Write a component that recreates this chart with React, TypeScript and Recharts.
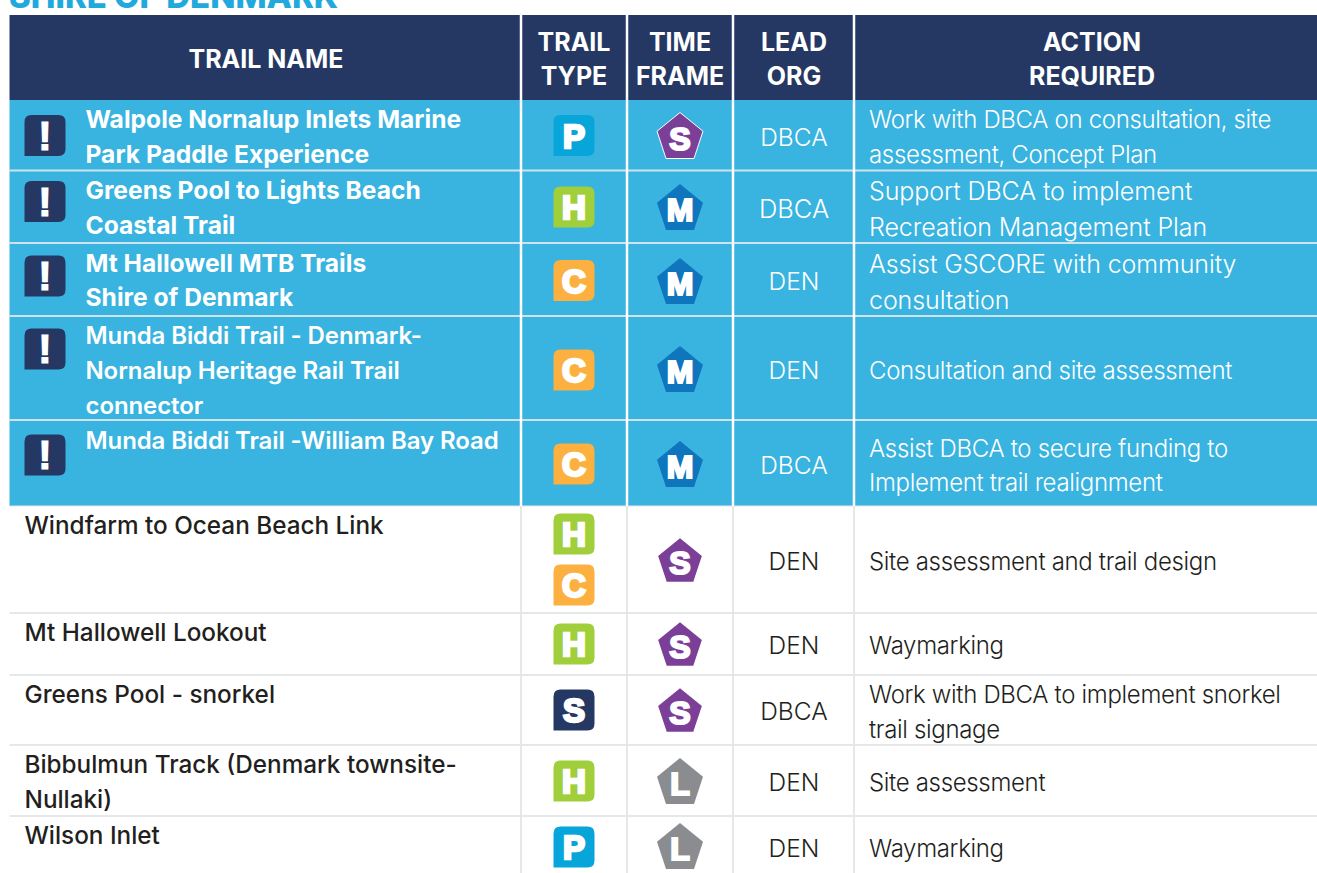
import React from 'react';
import { ComposedChart, XAxis, YAxis, Scatter, ReferenceArea, ReferenceLine } from 'recharts';

const WIDTH = 1317;
const HEIGHT = 873;
const FONT = 'Inter, sans-serif';
const BADGE_FONT = '"Liberation Sans", Arial, sans-serif';

// table content
const headers = [['TRAIL NAME'], ['TRAIL', 'TYPE'], ['TIME', 'FRAME'], ['LEAD', 'ORG'], ['ACTION', 'REQUIRED']];
const trailNames = [
  ['Walpole Nornalup Inlets Marine', 'Park Paddle Experience'],
  ['Greens Pool to Lights Beach', 'Coastal Trail'],
  ['Mt Hallowell MTB Trails', 'Shire of Denmark'],
  ['Munda Biddi Trail - Denmark-', 'Nornalup Heritage Rail Trail', 'connector'],
  ['Munda Biddi Trail -William Bay Road'],
  ['Windfarm to Ocean Beach Link'],
  ['Mt Hallowell Lookout'],
  ['Greens Pool - snorkel'],
  ['Bibbulmun Track (Denmark townsite-', 'Nullaki)'],
  ['Wilson Inlet'],
];
const trailTypes = [['P'], ['H'], ['C'], ['C'], ['C'], ['H', 'C'], ['H'], ['S'], ['H'], ['P']];
const timeFrames = ['S', 'M', 'M', 'M', 'M', 'S', 'S', 'S', 'L', 'L'];
const leadOrgs = ['DBCA', 'DBCA', 'DEN', 'DEN', 'DBCA', 'DEN', 'DEN', 'DBCA', 'DEN', 'DEN'];
const actions = [
  ['Work with DBCA on consultation, site', 'assessment, Concept Plan'],
  ['Support DBCA to implement', 'Recreation Management Plan'],
  ['Assist GSCORE with community', 'consultation'],
  ['Consultation and site assessment'],
  ['Assist DBCA to secure funding to', 'Implement trail realignment'],
  ['Site assessment and trail design'],
  ['Waymarking'],
  ['Work with DBCA to implement snorkel', 'trail signage'],
  ['Site assessment'],
  ['Waymarking'],
];
const priorityRows = 5;
const lighterPriorityRows = [3, 4];
const largerActionRows = [1, 2];

// table geometry, in chart units
const columnEdges = [9.5, 521, 627, 733, 854, 1317];
const rowEdges = [100, 170.5, 243, 316, 420, 506, 613, 675, 745, 816];
const tableTop = 15;
const headerCentres = [266, 574, 680, 794, 1092];
const headerLineY = [[59], [42, 76], [42, 76], [42, 76], [42, 76]];
const nameLineY = [[119, 154], [190, 225], [263, 297], [335, 370, 405], [440], [525], [632], [694], [764, 799], [835]];
const actionLineY = [[119, 154], [191, 227], [264, 300], [370], [448, 482], [561], [645], [694, 729], [782], [848]];
const leadY = [137, 208, 281, 370, 465, 561, 645, 711, 782, 848];
const alertY = [135.5, 201.5, 276, 349, 455];
const typeY = [[135.5], [207], [280.5], [370], [464], [534, 585], [644], [710], [781], [847]];
const frameY = [135.5, 207, 281, 369, 464, 560, 644, 710, 781, 846];

const typeColours: Record<string, string> = { P: '#08a5db', H: '#a0cf3b', C: '#fbb040', S: '#253864' };
const frameColours: Record<string, string> = { S: '#7b3f98', M: '#0f75bc', L: '#8a8c8f' };

const headerRows = headers.flatMap((lines, c) =>
  lines.map((text, l) => ({ x: headerCentres[c], y: headerLineY[c][l], text })));
const nameRows = trailNames.flatMap((lines, r) =>
  lines.map((text, l) => ({
    x: r < priorityRows ? 85.5 : 24.5,
    y: nameLineY[r][l],
    text,
    priority: r < priorityRows,
    lighter: lighterPriorityRows.includes(r),
  })));
const actionRows = actions.flatMap((lines, r) =>
  lines.map((text, l) => ({
    x: 869,
    y: actionLineY[r][l],
    text,
    priority: r < priorityRows,
    larger: largerActionRows.includes(r),
  })));
const leadRows = leadOrgs.map((text, r) => ({
  x: headerCentres[3],
  y: leadY[r],
  text,
  priority: r < priorityRows,
  larger: r === 1,
}));
const alertRows = alertY.map((y) => ({ x: 45, y, text: '!', fill: '#253864' }));
const typeRows = trailTypes.flatMap((letters, r) =>
  letters.map((text, l) => ({ x: headerCentres[1], y: typeY[r][l], text, fill: typeColours[text] })));
const frameRows = timeFrames.map((text, r) => ({
  x: headerCentres[2],
  y: frameY[r],
  text,
  fill: frameColours[text],
  outlined: r === 0,
  scale: text === 'S' && r > 0 ? 0.95 : 1,
}));

const HeaderText = ({ cx, cy, payload }: any) => (
  <text x={cx} y={cy} textAnchor="middle" dominantBaseline="central" fontFamily={FONT} fontWeight={700} fontSize={25} fill="#fff">
    {payload.text}
  </text>
);

const NameText = ({ cx, cy, payload }: any) => {
  let weight = 500;
  let size = 24.3;
  let spacing = 0;
  if (payload.priority) {
    weight = payload.lighter ? 600 : 700;
    size = payload.lighter ? 24 : 24.6;
    spacing = payload.lighter ? -0.1 : 0;
  }
  return (
    <text x={cx} y={cy} dominantBaseline="central" fontFamily={FONT} fontWeight={weight} fontSize={size} letterSpacing={spacing}
      fill={payload.priority ? '#fff' : '#231f20'}>
      {payload.text}
    </text>
  );
};

const ActionText = ({ cx, cy, payload }: any) => (
  <text x={cx} y={cy} dominantBaseline="central" fontFamily={FONT} fontWeight={300}
    fontSize={payload.larger ? 25 : 24} letterSpacing={payload.larger ? -0.1 : -0.33}
    fill={payload.priority ? '#fff' : '#231f20'}>
    {payload.text}
  </text>
);

const LeadText = ({ cx, cy, payload }: any) => (
  <text x={cx} y={cy} textAnchor="middle" dominantBaseline="central" fontFamily={FONT} fontWeight={300}
    fontSize={payload.larger ? 25.5 : 24.5} fill={payload.priority ? '#fff' : '#231f20'}>
    {payload.text}
  </text>
);

// rounded square with one sharp corner, bottom left
const Badge = ({ cx, cy, payload }: any) => {
  const h = 20.5;
  const r = 7;
  const d = `M${cx - h + r} ${cy - h}H${cx + h - r}Q${cx + h} ${cy - h} ${cx + h} ${cy - h + r}V${cy + h - r}Q${cx + h} ${cy + h} ${cx + h - r} ${cy + h}H${cx - h}V${cy - h + r}Q${cx - h} ${cy - h} ${cx - h + r} ${cy - h}Z`;
  const alert = payload.text === '!';
  return (
    <g>
      <path d={d} fill={payload.fill} />
      <text x={cx} y={alert ? cy + 14 : cy + 12} textAnchor="middle" fontFamily={BADGE_FONT} fontWeight={700}
        fontSize={alert ? 40 : 33} fill="#fff" stroke="#fff" strokeWidth={alert ? 1.2 : 2.6}>
        {payload.text}
      </text>
    </g>
  );
};

const Pentagon = ({ cx, cy, payload }: any) => {
  const s = payload.scale;
  const corners = [[0, -23], [23, -4.3], [14, 23], [-14, 23], [-23, -4.3]];
  const points = corners.map(([dx, dy]) => `${cx + dx * s},${cy + dy * s}`).join(' ');
  return (
    <g>
      <polygon points={points} fill={payload.fill} stroke={payload.outlined ? '#fff' : 'none'} strokeWidth={1} />
      <text x={cx} y={cy + 14} textAnchor="middle" fontFamily={BADGE_FONT} fontWeight={700} fontSize={32} fill="#fff"
        stroke="#fff" strokeWidth={2.2}>
        {payload.text}
      </text>
    </g>
  );
};

const TitleText = ({ cx, cy }: any) => (
  <text x={cx} y={cy} fontFamily={FONT} fontWeight={800} fontSize={33} fill="#1fa9dc">
    SHIRE OF DENMARK
  </text>
);

const App = () => {
  const bandEnd = rowEdges[priorityRows];
  return (
    <div style={{ position: 'absolute', left: 0, top: 0, width: WIDTH, height: HEIGHT, overflow: 'hidden', background: '#fff' }}>
      <ComposedChart width={WIDTH} height={HEIGHT} margin={{ top: 0, right: 0, bottom: 0, left: 0 }} data={[]}>
        <XAxis type="number" dataKey="x" domain={[0, WIDTH]} hide allowDataOverflow />
        <YAxis type="number" dataKey="y" domain={[0, HEIGHT]} reversed hide allowDataOverflow />

        <ReferenceArea x1={columnEdges[0]} x2={WIDTH} y1={tableTop} y2={rowEdges[0]} fill="#253864" fillOpacity={1} stroke="none" />
        <ReferenceArea x1={columnEdges[0]} x2={WIDTH} y1={rowEdges[0]} y2={bandEnd} fill="#39b3df" fillOpacity={1} stroke="none" />

        {rowEdges.slice(1).map((y, i) => (
          <ReferenceLine key={y} segment={[{ x: columnEdges[0], y }, { x: WIDTH, y }]}
            stroke={i < priorityRows - 1 ? '#cfe3ec' : '#e6e7e8'} strokeWidth={i === priorityRows - 1 ? 1 : 1.8} />
        ))}
        {columnEdges.slice(1, -1).flatMap((x) => [
          <ReferenceLine key={`top-${x}`} segment={[{ x, y: tableTop }, { x, y: bandEnd }]} stroke="#fff" strokeWidth={2.5} />,
          <ReferenceLine key={`body-${x}`} segment={[{ x, y: bandEnd }, { x, y: HEIGHT }]} stroke="#e6e7e8" strokeWidth={2} />,
        ])}

        <Scatter data={[{ x: 9, y: 8 }]} shape={TitleText} isAnimationActive={false} />
        <Scatter data={headerRows} shape={HeaderText} isAnimationActive={false} />
        <Scatter data={nameRows} shape={NameText} isAnimationActive={false} />
        <Scatter data={alertRows} shape={Badge} isAnimationActive={false} />
        <Scatter data={typeRows} shape={Badge} isAnimationActive={false} />
        <Scatter data={frameRows} shape={Pentagon} isAnimationActive={false} />
        <Scatter data={leadRows} shape={LeadText} isAnimationActive={false} />
        <Scatter data={actionRows} shape={ActionText} isAnimationActive={false} />
      </ComposedChart>
    </div>
  );
};

export default App;
